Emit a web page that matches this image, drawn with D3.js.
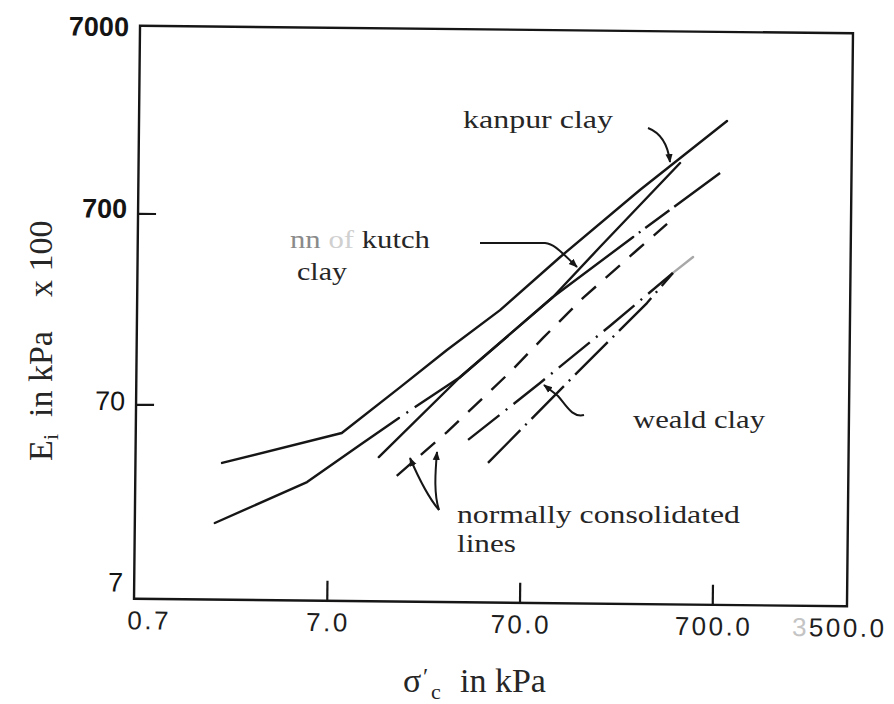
<!DOCTYPE html>
<html>
<head>
<meta charset="utf-8">
<script src="https://cdn.jsdelivr.net/npm/d3@7"></script>
<style>
  html, body { margin: 0; padding: 0; background: #fff; }
  svg { display: block; }
</style>
</head>
<body>
<svg id="chart" width="894" height="704"></svg>
<script>
// Consolidation pressure (kPa) and initial tangent modulus (kPa x 100), log-log
const sigmaTicks = [0.7, 7, 70, 700, 3500];
const modulusTicks = [7, 70, 700, 7000];

// Kanpur clay, over-consolidated curve
const kanpurSigma = [1.97, 8.2, 16.4, 28.5, 53.5, 109, 280, 786];
const kanpurE     = [34.9, 50.8, 89, 140, 228, 436, 988, 2294];

// Rann of Kutch clay curve
const kutchSigma = [1.82, 5.45, 10.2, 16.2, 33.4, 100.5, 175, 451];
const kutchE     = [16.9, 28.0, 44.1, 61.4, 101, 269, 494, 1374];

// normally consolidated line (upper, chain)
const ncUpperSigma = [12.8, 33.4, 100.5, 260, 728];
const ncUpperE     = [38.2, 101, 269, 560, 1225];

// normally consolidated line (dashed)
const ncDashedSigma = [15.9, 28.8, 60.7, 89.7, 144, 273, 389];
const ncDashedE     = [30.5, 52.1, 108, 164, 267, 479, 658];

// Weald clay, two chain lines meeting at the top
const wealdUpperSigma = [37.1, 87, 199, 420, 533];
const wealdUpperE     = [47.5, 95.2, 191, 365, 443];
const wealdLowerSigma = [47.2, 129, 309, 420];
const wealdLowerE     = [36.1, 103, 253, 365];

const svg = d3.select("#chart");
const INK = "#161616";
const serif = "'Liberation Serif', 'Times New Roman', serif";
const sans = "'Liberation Sans', Arial, sans-serif";

const frame = { left: 137, right: 850, top: 29.5, bottom: 602.5 };

const x = d3.scaleLog().domain([0.7, 3500]).range([frame.left, frame.right]);
const y = d3.scaleLog().domain([7, 7000]).range([599, 26]);

// plot body (frame, axes, curves) sits with a slight clockwise tilt
const plot = svg.append("g").attr("transform", "rotate(0.6,492,316)");

plot.append("rect")
  .attr("x", frame.left).attr("y", frame.top)
  .attr("width", frame.right - frame.left)
  .attr("height", frame.bottom - frame.top)
  .attr("fill", "none").attr("stroke", INK).attr("stroke-width", 2.4);

// x axis: inward ticks, spaced-out numerals
const gx = plot.append("g")
  .attr("transform", `translate(0,${frame.bottom})`)
  .call(d3.axisBottom(x).tickValues(sigmaTicks)
    .tickSizeInner(-20).tickSizeOuter(0).tickPadding(12)
    .tickFormat(d => d.toFixed(1)));
gx.select(".domain").remove();
gx.selectAll(".tick line")
  .attr("stroke", INK).attr("stroke-width", 2.2)
  .filter(d => d === 0.7 || d === 3500).remove();
gx.selectAll(".tick text")
  .attr("fill", "#1e1e1e")
  .style("font-family", sans).style("font-size", "26px")
  .style("letter-spacing", "2.5px")
  .attr("dx", d => d === 0.7 ? 15 : d === 3500 ? -8 : 1);
gx.selectAll(".tick text").filter(d => d === 3500)
  .text(null)
  .call(t => {
    t.append("tspan").attr("fill", "#c4c4c4").text("3");
    t.append("tspan").text("500.0");
  });

// y axis: inward ticks, bold labels for the upper decades
const labelShift = new Map([[7, "-0.15em"], [70, "0.21em"], [700, "0.16em"], [7000, "0.5em"]]);
const gy = plot.append("g")
  .attr("transform", `translate(${frame.left},0)`)
  .call(d3.axisLeft(y).tickValues(modulusTicks)
    .tickSizeInner(-18).tickSizeOuter(0).tickPadding(11)
    .tickFormat(d3.format("d")));
gy.select(".domain").remove();
gy.selectAll(".tick line")
  .attr("stroke", INK).attr("stroke-width", 2.2)
  .filter(d => d === 7 || d === 7000).remove();
gy.selectAll(".tick text")
  .attr("fill", "#141414")
  .style("font-family", sans).style("font-size", "27px")
  .style("font-weight", d => d >= 700 ? "bold" : "normal")
  .attr("dy", d => labelShift.get(d));

// curves
const line = d3.line().x(d => x(d[0])).y(d => y(d[1]));
const series = [
  { pts: d3.zip(kanpurSigma, kanpurE), parts: [[0, 7, null]] },
  { pts: d3.zip(kutchSigma, kutchE),
    parts: [[0, 3, null], [3, 4, "0,9,2,8,90"], [4, 7, null]] },
  { pts: d3.zip(ncUpperSigma, ncUpperE),
    parts: [[0, 3, null], [3, 4, "0,7,2,6,30,6,90"]] },
  { pts: d3.zip(ncDashedSigma, ncDashedE), parts: [[0, 6, "19,13"]] },
  { pts: d3.zip(wealdUpperSigma, wealdUpperE),
    parts: [[0, 3, "40,8,2,8"], [3, 4, null, "#a8a8a8"]] },
  { pts: d3.zip(wealdLowerSigma, wealdLowerE), parts: [[0, 3, "46,7,2,7"]] }
];
const curves = plot.append("g").attr("fill", "none")
  .attr("stroke-width", 2.4).attr("stroke-linejoin", "round");
series.forEach(s => {
  s.parts.forEach(([i0, i1, dash, colour]) => {
    curves.append("path")
      .attr("d", line(s.pts.slice(i0, i1 + 1)))
      .attr("stroke", colour || INK)
      .attr("stroke-dasharray", dash)
      .attr("stroke-linecap", dash ? "butt" : "round");
  });
});

// annotations
const notes = svg.append("g");
notes.append("defs").append("marker")
  .attr("id", "head").attr("viewBox", "0 0 10 10")
  .attr("refX", 9).attr("refY", 5)
  .attr("markerWidth", 9).attr("markerHeight", 9)
  .attr("markerUnits", "userSpaceOnUse").attr("orient", "auto")
  .append("path").attr("d", "M0,1 L10,5 L0,9 Z").attr("fill", INK);

const pointers = [
  "M648,128 C661,133 668,145 670,162",
  "M480,243 L545,243 C555,244 562,253 577,267",
  "M584,415 C572,418 566,405 558,396 L544,385",
  "M439,510 C428,497 419,479 410,458",
  "M439,510 C434,495 435,475 437,452"
];
notes.selectAll("path.ptr").data(pointers).join("path")
  .attr("class", "ptr").attr("d", d => d)
  .attr("fill", "none").attr("stroke", INK).attr("stroke-width", 2)
  .attr("marker-end", "url(#head)");

const labels = [
  { t: "kanpur clay", x: 463, y: 128, w: 150 },
  { t: "clay", x: 297, y: 280, w: 50 },
  { t: "weald clay", x: 633, y: 428, w: 132 },
  { t: "normally consolidated", x: 457, y: 523, w: 283 },
  { t: "lines", x: 457, y: 552, w: 59 }
];
notes.selectAll("text.lbl").data(labels).join("text")
  .attr("class", "lbl")
  .attr("x", d => d.x).attr("y", d => d.y)
  .attr("textLength", d => d.w).attr("lengthAdjust", "spacingAndGlyphs")
  .attr("fill", "#262626")
  .style("font-family", serif).style("font-size", "26px")
  .text(d => d.t);

const kutchLabel = notes.append("text")
  .attr("x", 290).attr("y", 248)
  .attr("textLength", 140).attr("lengthAdjust", "spacingAndGlyphs")
  .style("font-family", serif).style("font-size", "26px");
kutchLabel.append("tspan").attr("fill", "#8a8a8a").text("nn ");
kutchLabel.append("tspan").attr("fill", "#d0d0d0").text("of ");
kutchLabel.append("tspan").attr("fill", "#262626").text("kutch");

// axis titles
const xTitle = svg.append("text").attr("fill", "#262626")
  .style("font-family", serif).style("font-size", "34px");
xTitle.append("tspan").attr("x", 403).attr("y", 692).text("σ");
xTitle.append("tspan").attr("x", 423).attr("y", 684).style("font-size", "24px").text("′");
xTitle.append("tspan").attr("x", 431).attr("y", 699).style("font-size", "22px").text("c");
xTitle.append("tspan").attr("x", 460).attr("y", 692).text("in kPa");

const yTitle = svg.append("text").attr("fill", "#262626")
  .attr("transform", "translate(52,461) rotate(-90)")
  .style("font-family", serif).style("font-size", "34px");
yTitle.append("tspan").attr("x", 0).attr("y", 0).text("E");
yTitle.append("tspan").attr("x", 21).attr("y", 6).style("font-size", "22px").text("i");
yTitle.append("tspan").attr("x", 44).attr("y", 0).text("in kPa");
yTitle.append("tspan").attr("x", 164).attr("y", 0).text("x 100");
</script>
</body>
</html>
